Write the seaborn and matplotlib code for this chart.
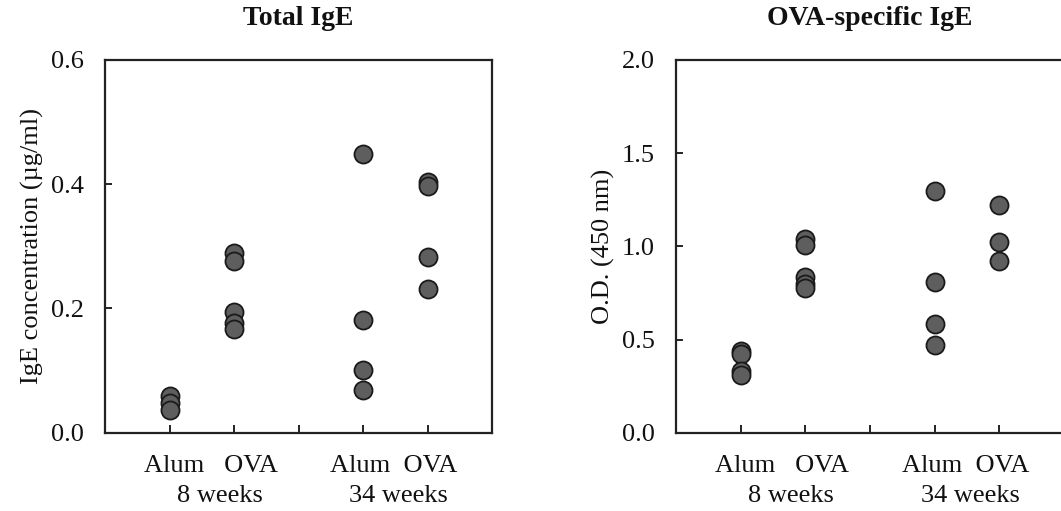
import matplotlib
matplotlib.use("Agg")
import matplotlib.pyplot as plt
import seaborn as sns
import pandas as pd

# groups in plotting order; blank slots keep the empty ticks at the ends / middle
slots = ["pad_left", "Alum 8w", "OVA 8w", "gap", "Alum 34w", "OVA 34w", "pad_right"]

# Total IgE (ug/ml)
total_alum_8 = [0.060, 0.048, 0.036]
total_ova_8 = [0.290, 0.277, 0.194, 0.177, 0.167]
total_alum_34 = [0.448, 0.182, 0.101, 0.069]
total_ova_34 = [0.403, 0.397, 0.282, 0.232]

# OVA-specific IgE (O.D. 450 nm)
ova_alum_8 = [0.44, 0.42, 0.33, 0.31]
ova_ova_8 = [1.04, 1.005, 0.838, 0.80, 0.775]
ova_alum_34 = [1.297, 0.808, 0.586, 0.469]
ova_ova_34 = [1.221, 1.023, 0.923]


def to_frame(alum8, ova8, alum34, ova34):
    rows = []
    for grp, vals in zip(["Alum 8w", "OVA 8w", "Alum 34w", "OVA 34w"],
                         [alum8, ova8, alum34, ova34]):
        for v in vals:
            rows.append({"group": grp, "value": v})
    return pd.DataFrame(rows)


total_df = to_frame(total_alum_8, total_ova_8, total_alum_34, total_ova_34)
ova_df = to_frame(ova_alum_8, ova_ova_8, ova_alum_34, ova_ova_34)

sns.set_style("ticks")
plt.rcParams["font.family"] = ["Liberation Serif", "DejaVu Serif"]

fig = plt.figure(figsize=(10.61, 5.11), dpi=100)
ax1 = fig.add_axes([0.099, 0.153, 0.365, 0.730])
ax2 = fig.add_axes([0.637, 0.153, 0.366, 0.730])


def draw_panel(ax, df, title, ylabel, ymax, yticks):
    sns.stripplot(data=df, x="group", y="value", order=slots, jitter=False,
                  color="#5e5e5e", edgecolor="#1a1a1a", linewidth=1.3,
                  size=13, ax=ax, zorder=3)
    ax.set_xlim(0, 6)
    ax.set_ylim(0, ymax)
    ax.set_xticks([1, 2, 3, 4, 5])
    ax.set_xticklabels([])
    ax.set_yticks(yticks)
    ax.set_yticklabels(["{:.1f}".format(t) for t in yticks])
    ax.tick_params(direction="in", length=5, width=1.4, labelsize=19, pad=15,
                   color="#222222", labelcolor="#111111")
    ax.tick_params(axis="x", length=6)
    for sp in ax.spines.values():
        sp.set_visible(True)
        sp.set_linewidth(1.6)
        sp.set_color("#222222")
    ax.set_xlabel("")
    ax.set_ylabel(ylabel, fontsize=19, labelpad=5, color="#111111")
    ax.set_title(title, fontsize=20, fontweight="bold", pad=25, color="#111111")

    tr = ax.get_xaxis_transform()
    kw = dict(transform=tr, ha="center", va="center", fontsize=19, color="#111111")
    ax.text(1.64, -0.088, "Alum   OVA", **kw)
    ax.text(1.78, -0.169, "8 weeks", **kw)
    ax.text(4.47, -0.088, "Alum  OVA", **kw)
    ax.text(4.55, -0.169, "34 weeks", **kw)


draw_panel(ax1, total_df, "Total IgE", "IgE concentration (\u00b5g/ml)",
           0.6, [0.0, 0.2, 0.4, 0.6])
draw_panel(ax2, ova_df, "OVA-specific IgE", "O.D. (450 nm)",
           2.0, [0.0, 0.5, 1.0, 1.5, 2.0])

fig.savefig("out.png", dpi=100)
